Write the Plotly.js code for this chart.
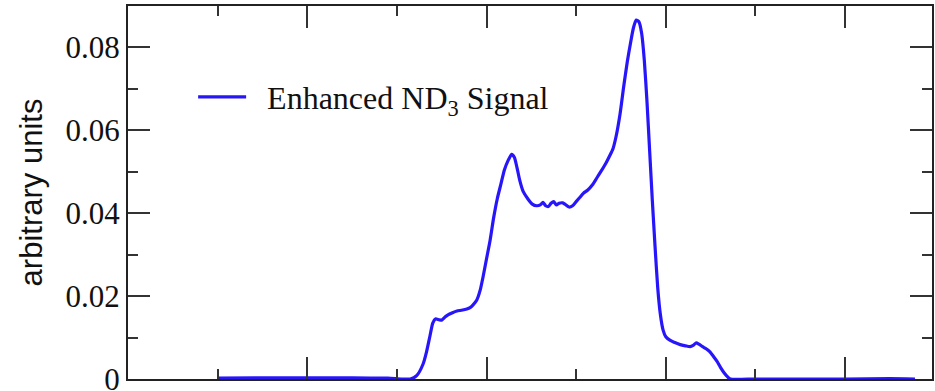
<!DOCTYPE html>
<html>
<head>
<meta charset="utf-8">
<script src="https://cdn.plot.ly/plotly-3.0.1.min.js"></script>
<style>html,body{margin:0;padding:0;background:#fff;}#chart{width:935px;height:391px;}</style>
</head>
<body>
<div id="chart"></div>
<script>
// Signal trace (x in arbitrary position units, y in arbitrary units)
const signalX = [100,150,200,250,290,305,315,322,329,333,337,340,343,347,350,354,357,362,367,372,378,382,385,389,393,396,400,404,408,412,416,420,424,428,431,434,437,441,446,451,456,460,463,466,469,472,475,478,481,485,488,492,496,500,504,508,513,518,523,528,533,537,541,545,549,553,557,561,564,567,570,573,576,579,582,585,588,591,594,597,600,605,610,616,622,627,631,634,637,641,645,649,653,657,661,665,669,672,700,750,800,850,878];
const signalY = [0.0002,0.0003,0.0003,0.0003,0.0002,0.0000,0.0000,0.0008,0.0035,0.0065,0.0105,0.0135,0.0145,0.0143,0.0142,0.0150,0.0155,0.0160,0.0164,0.0166,0.0169,0.0173,0.0179,0.0190,0.0215,0.0245,0.0290,0.0335,0.0390,0.0435,0.0470,0.0505,0.0527,0.0542,0.0535,0.0510,0.0480,0.0452,0.0435,0.0422,0.0418,0.0420,0.0426,0.0418,0.0416,0.0424,0.0428,0.0420,0.0424,0.0425,0.0421,0.0415,0.0418,0.0428,0.0438,0.0448,0.0456,0.0468,0.0485,0.0502,0.0520,0.0537,0.0555,0.0590,0.0640,0.0705,0.0765,0.0815,0.0848,0.0866,0.0862,0.0835,0.0770,0.0670,0.0550,0.0430,0.0320,0.0220,0.0155,0.0118,0.0102,0.0093,0.0088,0.0083,0.0080,0.0078,0.0082,0.0087,0.0084,0.0078,0.0073,0.0066,0.0055,0.0043,0.0028,0.0015,0.0005,0.0000,0.0000,0.0000,0.0000,0.0001,0.0000];
const seriesName = "\u00A0\u00A0Enhanced ND<sub>3</sub> Signal";
const yTitle = "arbitrary units";
const yTickVals = [0, 0.02, 0.04, 0.06, 0.08];
const yTickText = ["0", "0.02", "0.04", "0.06", "0.08"];

const axisCommon = {
  showline: true, mirror: 'ticks', linecolor: '#222', linewidth: 2,
  ticks: 'inside', ticklen: 22, tickwidth: 2, tickcolor: '#333',
  showgrid: false, zeroline: false,
};

const trace = {
  x: signalX, y: signalY, type: 'scatter', mode: 'lines',
  name: seriesName,
  line: {color: 'rgb(40,22,250)', width: 3.2, shape: 'spline', smoothing: 0.6}
};

const layout = {
  width: 935, height: 391,
  margin: {l: 128, r: 3, t: 6, b: 12},
  paper_bgcolor: '#fff', plot_bgcolor: '#fff',
  showlegend: true,
  legend: {
    x: 0.081, y: 0.756, xanchor: 'left', yanchor: 'middle',
    bgcolor: 'rgba(0,0,0,0)',
    font: {family: 'Liberation Serif', size: 32, color: '#111'},
    itemwidth: 48
  },
  xaxis: Object.assign({}, axisCommon, {
    range: [0, 897], tick0: 0, dtick: 200, showticklabels: false,
    minor: {dtick: 100, ticks: 'inside', ticklen: 10, tickwidth: 2, tickcolor: '#333'}
  }),
  yaxis: Object.assign({}, axisCommon, {
    range: [0, 0.09], tickmode: 'array', tickvals: yTickVals, ticktext: yTickText,
    ticklabeloverflow: 'allow',
    tickfont: {family: 'Liberation Serif', size: 31, color: '#111'},
    minor: {dtick: 0.01, tick0: 0, ticks: 'inside', ticklen: 10, tickwidth: 2, tickcolor: '#333'},
    title: {text: yTitle, font: {family: 'Liberation Sans', size: 31, color: '#111'}, standoff: 14}
  })
};

Plotly.newPlot('chart', [trace], layout, {staticPlot: true, displayModeBar: false});
</script>
</body>
</html>
